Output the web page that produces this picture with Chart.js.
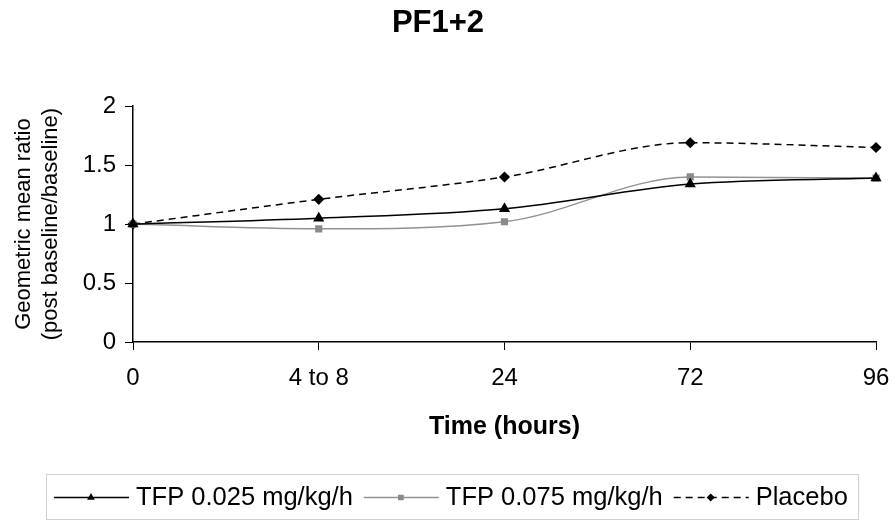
<!DOCTYPE html>
<html>
<head>
<meta charset="utf-8">
<script src="https://cdn.jsdelivr.net/npm/chart.js@4"></script>
<style>
html,body{margin:0;padding:0;background:#fff;}
#wrap{width:893px;height:521px;}
</style>
</head>
<body>
<div id="wrap"><canvas id="lineC" width="893" height="521"></canvas></div>
<script>
const timeLabels=["0","4 to 8","24","72","96"];
const tfpLow=[1.0,1.05,1.13,1.34,1.39];
const tfpHigh=[1.0,0.96,1.02,1.40,1.39];
const placebo=[1.0,1.21,1.40,1.69,1.65];
const yTicks=[0,0.5,1,1.5,2];

const FONT="Arial, 'Liberation Sans', sans-serif";

// legend drawn by hand so each entry shows the line with its marker, inside a box
const boxLegend={
    id:"boxLegend",
    afterDraw(chart){
        const ctx=chart.ctx;
        const x0=46,y0=474,w=812,h=45;
        ctx.save();
        ctx.strokeStyle="#d0d0d0";
        ctx.lineWidth=1;
        ctx.strokeRect(x0+0.5,y0+0.5,w,h);
        ctx.font="25.5px "+FONT;
        ctx.textBaseline="middle";
        const cy=y0+h/2+1;
        let x=x0+8;
        chart.data.datasets.forEach((ds)=>{
            ctx.beginPath();
            ctx.strokeStyle=ds.borderColor;
            ctx.lineWidth=ds.borderWidth;
            ctx.setLineDash(ds.borderDash||[]);
            ctx.moveTo(x,cy);ctx.lineTo(x+75,cy);ctx.stroke();
            ctx.setLineDash([]);
            ctx.fillStyle=ds.pointBackgroundColor;
            ctx.strokeStyle=ds.pointBorderColor;
            Chart.helpers.drawPoint(ctx,{pointStyle:ds.pointStyle,radius:3,borderWidth:1},x+37,cy);
            ctx.fillStyle="#000";
            ctx.fillText(ds.label,x+82,cy);
            x+=82+ctx.measureText(ds.label).width+11;
        });
        ctx.restore();
    }
};

new Chart(document.getElementById("lineC"),{
    type:"line",
    data:{
        labels:timeLabels,
        datasets:[
            {
                label:"TFP 0.025 mg/kg/h",
                data:tfpLow,
                borderColor:"#000",
                borderWidth:1.5,
                pointStyle:"triangle",
                pointRadius:5,
                pointBackgroundColor:"#000",
                pointBorderColor:"#000"
            },
            {
                label:"TFP 0.075 mg/kg/h",
                data:tfpHigh,
                borderColor:"#929292",
                borderWidth:1.5,
                pointStyle:"rect",
                pointRadius:4,
                pointBackgroundColor:"#8a8a8a",
                pointBorderColor:"#8a8a8a"
            },
            {
                label:"Placebo",
                data:placebo,
                borderColor:"#000",
                borderWidth:1.5,
                borderDash:[7,5],
                pointStyle:"rectRot",
                pointRadius:4.5,
                pointBackgroundColor:"#000",
                pointBorderColor:"#000"
            }
        ]
    },
    options:{
        responsive:false,
        animation:false,
        devicePixelRatio:1,
        elements:{line:{cubicInterpolationMode:"monotone"}},
        layout:{padding:{left:0,right:17,top:0,bottom:0}},
        plugins:{
            legend:{display:false},
            tooltip:{enabled:false},
            title:{
                display:true,
                text:"PF1+2",
                color:"#000",
                font:{family:FONT,size:31,weight:"bold"},
                padding:{top:5,bottom:64}
            }
        },
        scales:{
            x:{
                offset:false,
                afterFit(axis){axis.height=179;axis.paddingRight=0;axis.paddingLeft=0;},
                grid:{display:true,drawOnChartArea:false,drawTicks:true,tickLength:8,color:"#000"},
                border:{color:"#000",width:1.5},
                ticks:{color:"#000",font:{family:FONT,size:24},padding:14,maxRotation:0},
                title:{display:true,text:"Time (hours)",color:"#000",
                    font:{family:FONT,size:25,weight:"bold"},padding:{top:0,bottom:79}}
            },
            y:{
                min:0,max:2,
                afterFit(axis){axis.width=133;},
                afterBuildTicks(axis){axis.ticks=yTicks.map(v=>({value:v}));},
                grid:{display:true,drawOnChartArea:false,drawTicks:true,tickLength:8,color:"#000"},
                border:{color:"#000",width:1.5},
                ticks:{color:"#000",font:{family:FONT,size:24},padding:9,
                    callback:(v)=>String(v)},
                title:{display:true,text:["Geometric mean ratio","(post baseline/baseline)"],color:"#000",
                    font:{family:FONT,size:22},padding:{top:11,bottom:0}}
            }
        }
    },
    plugins:[boxLegend]
});
</script>
</body>
</html>
